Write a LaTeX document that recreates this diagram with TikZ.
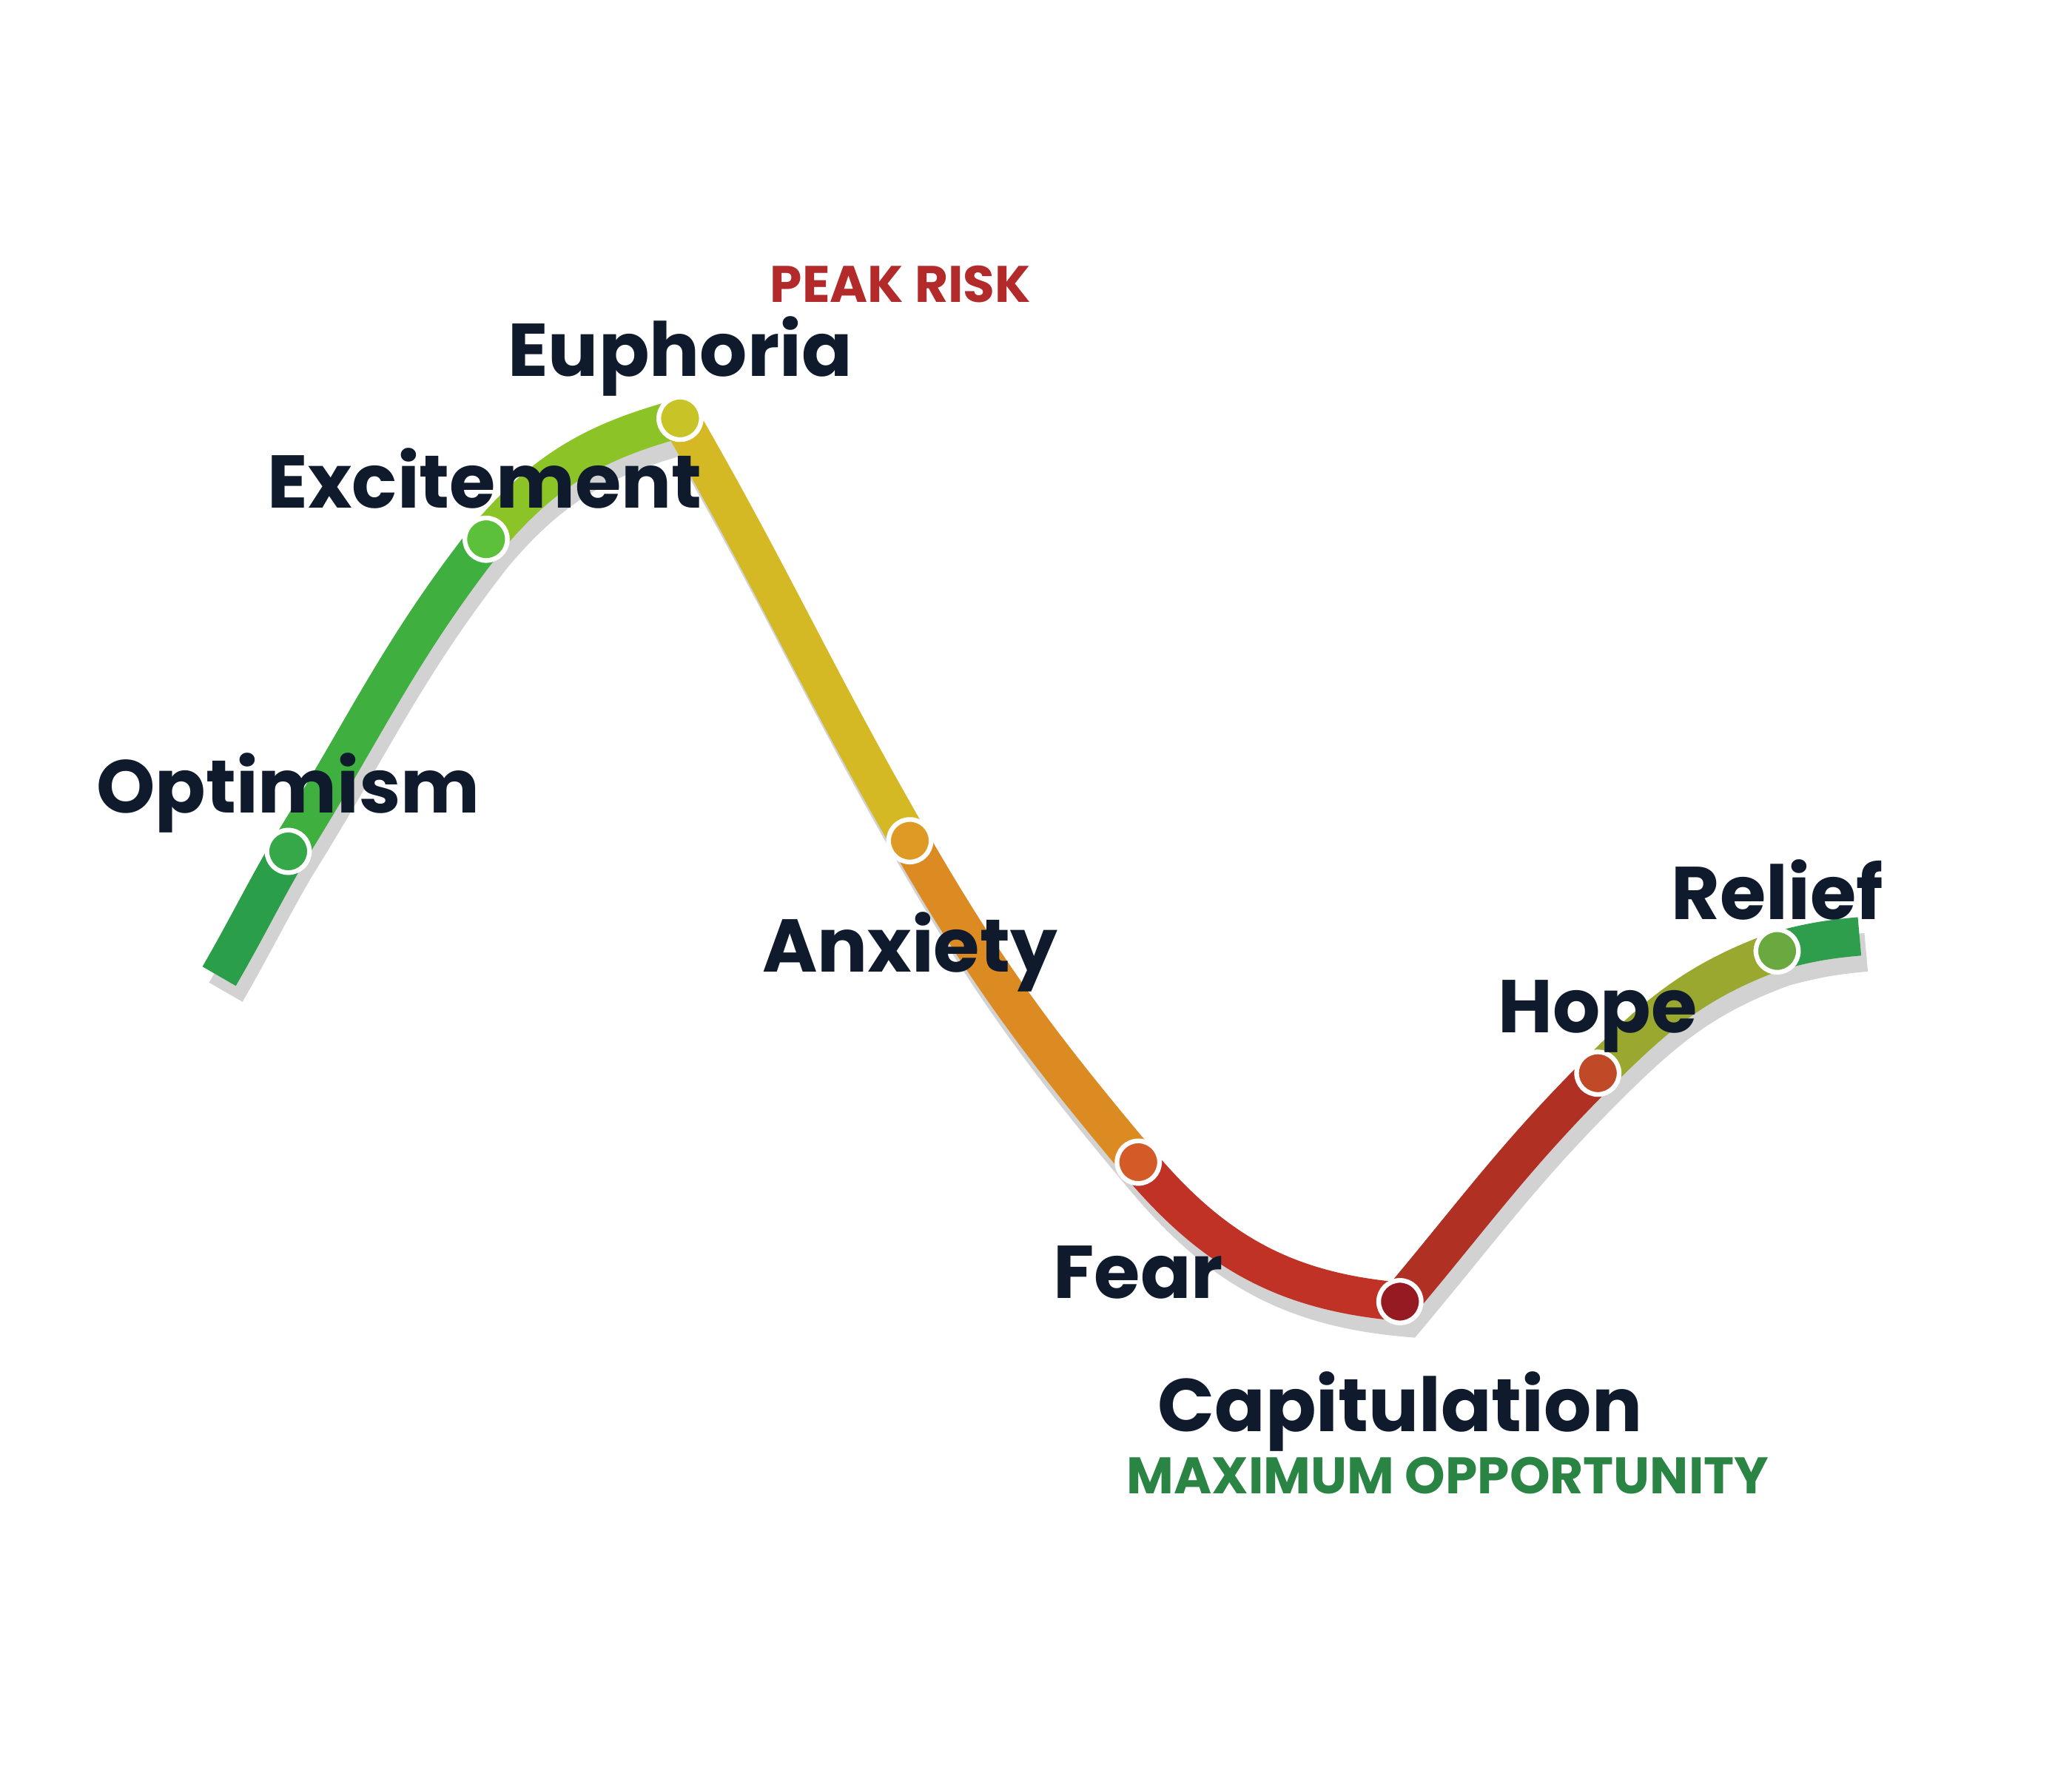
\documentclass[tikz,border=0pt]{standalone}
\usepackage{fontspec}
\setmainfont{Poppins}
\definecolor{lbl}{HTML}{0F1B2D}
\definecolor{cA}{HTML}{2A9E48}
\definecolor{cB}{HTML}{3FB040}
\definecolor{cC}{HTML}{8CC428}
\definecolor{cD}{HTML}{D4B824}
\definecolor{cE}{HTML}{DC8A22}
\definecolor{cG}{HTML}{C03226}
\definecolor{cH}{HTML}{B03024}
\definecolor{cI}{HTML}{9AA830}
\definecolor{cJ}{HTML}{2E9E4C}
\definecolor{dot1}{HTML}{35A84A}
\definecolor{dot2}{HTML}{5CC03A}
\definecolor{dot3}{HTML}{C8C428}
\definecolor{dot4}{HTML}{DE9A24}
\definecolor{dot5}{HTML}{D45A28}
\definecolor{dot6}{HTML}{961A22}
\definecolor{dot7}{HTML}{C04A28}
\definecolor{dot8}{HTML}{6AA840}
\definecolor{riskc}{HTML}{B22A2A}
\definecolor{oppc}{HTML}{2A8444}
\tikzset{
 band/.style={line width=0.29cm},
 shadowband/.style={line width=0.29cm,gray!35},
 stagedot/.style={circle,minimum size=0.32cm,inner sep=0pt,draw=white,line width=1pt},
 stage/.style={font=\bfseries\fontsize{16}{17}\selectfont,text=lbl},
 tag/.style={font=\bfseries\fontsize{11}{12}\selectfont}
}
\begin{document}
\begin{tikzpicture}[x=0.01cm,y=-0.01cm]
\useasboundingbox (0,0) rectangle (1560,1337);
\coordinate (s0) at (165,735);
\coordinate (p1) at (217,641);
\coordinate (p2) at (366,406);
\coordinate (p3) at (512,315);
\coordinate (p4) at (685,633);
\coordinate (p5) at (857,875);
\coordinate (p6) at (1054,980);
\coordinate (p7) at (1203,808);
\coordinate (p8) at (1338,716);
\coordinate (e0) at (1400,705);
% shadow
\draw[shadowband,transform canvas={shift={(0.05cm,-0.12cm)}}]
 (s0) to[out=60,in=240] (p1) to[out=58,in=232] (p2) to[out=50,in=195] (p3)
 to[out=-60,in=120] (p4) to[out=-60,in=130] (p5) to[out=-50,in=175] (p6)
 to[out=50,in=225] (p7) to[out=45,in=200] (p8) to[out=15,in=185] (e0);
% bands
\draw[band,cA] (s0) to[out=60,in=240] (p1);
\draw[band,cB] (p1) to[out=58,in=232] (p2);
\draw[band,cC] (p2) to[out=50,in=195] (p3);
\draw[band,cD] (p3) to[out=-60,in=120] (p4);
\draw[band,cE] (p4) to[out=-60,in=130] (p5);
\draw[band,cG] (p5) to[out=-50,in=175] (p6);
\draw[band,cH] (p6) to[out=50,in=225] (p7);
\draw[band,cI] (p7) to[out=45,in=200] (p8);
\draw[band,cJ] (p8) to[out=15,in=185] (e0);
% dots
\node[stagedot,fill=dot1] (d1) at (p1) {};
\node[stagedot,fill=dot2] (d2) at (p2) {};
\node[stagedot,fill=dot3] (d3) at (p3) {};
\node[stagedot,fill=dot4] (d4) at (p4) {};
\node[stagedot,fill=dot5] (d5) at (p5) {};
\node[stagedot,fill=dot6] (d6) at (p6) {};
\node[stagedot,fill=dot7] (d7) at (p7) {};
\node[stagedot,fill=dot8] (d8) at (p8) {};
% labels
\node[stage] (l1) at (217,597) {Optimism};
\node[stage] (l2) at (365,360) {Excitement};
\node[stage] (l3) at (512,268) {Euphoria};
\node[stage] (l4) at (685,717) {Anxiety};
\node[stage] (l5) at (857,958) {Fear};
\node[stage] (l6) at (1054,1063) {Capitulation};
\node[stage] (l7) at (1203,765) {Hope};
\node[stage] (l8) at (1338,670) {Relief};
\node[tag,text=riskc] (risk) at (678,214) {PEAK RISK};
\node[tag,text=oppc] (opp) at (1090,1111) {MAXIMUM OPPORTUNITY};
\end{tikzpicture}
\end{document}
